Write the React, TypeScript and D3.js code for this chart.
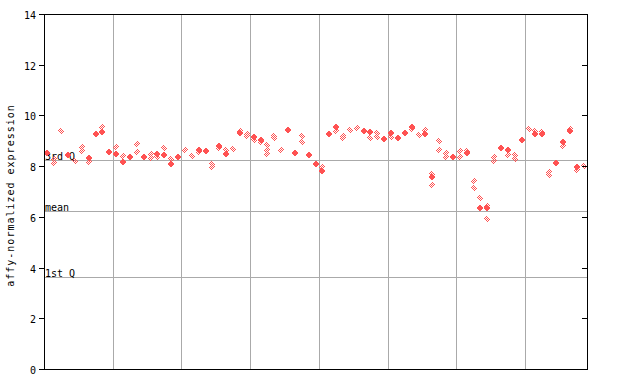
import React from "react";
import * as d3 from "d3";

// Per-sample values (79 samples, in order)
const filledValues: number[][] = [
  [8.51], [], [], [8.44], [], [], [8.33], [9.25], [9.33], [8.54],
  [8.48], [8.18], [8.37], [], [8.36], [], [8.47], [8.44], [8.08], [8.37],
  [], [], [8.64], [8.61], [], [8.79], [8.49], [], [9.29], [],
  [9.15], [9.03], [], [], [], [9.44], [8.52], [], [8.44], [8.1],
  [7.81], [9.25], [9.54], [], [], [], [9.37], [9.33], [], [9.07],
  [9.29], [9.12], [9.32], [9.56], [], [9.27], [7.58], [], [], [8.37],
  [], [8.5], [], [6.34], [6.34], [], [8.73], [8.65], [], [9.02],
  [], [9.25], [9.25], [], [8.14], [8.94], [9.4], [7.95], [],
];

const hatchedValues: number[][] = [
  [], [8.27, 8.12], [9.38], [], [8.21], [8.75, 8.6], [8.16], [], [9.54], [],
  [8.74], [8.39], [], [8.86, 8.57], [], [8.47, 8.33], [8.37], [8.7], [8.28], [],
  [8.62], [8.41], [8.57], [], [8.1, 7.98], [8.72], [8.64], [8.66], [9.38], [9.25, 9.18],
  [9.05], [8.95], [8.83, 8.65, 8.48], [9.2, 9.12], [8.62], [], [], [9.19, 8.97], [], [],
  [7.97], [], [9.38], [9.17, 9.1], [9.43], [9.49], [], [9.1], [9.29, 9.16], [],
  [9.15], [], [], [9.45], [9.23], [9.43], [7.68, 7.26], [8.99, 8.64], [8.53, 8.37], [],
  [8.61, 8.37], [8.58], [7.41, 7.12], [6.73], [6.42, 5.91], [8.37, 8.21], [], [8.45], [8.44, 8.27], [],
  [9.46], [9.38], [9.35], [7.78, 7.65], [], [8.8], [9.48], [7.85], [8.0],
];

const yTicks = [0, 2, 4, 6, 8, 10, 12, 14];
const groupBoundaries = [10, 20, 30, 40, 50, 60, 70];
const statLines = [
  { label: "3rd Q", value: 8.24 },
  { label: "mean", value: 6.23 },
  { label: "1st Q", value: 3.63 },
];
const yTitle = "affy-normalized expression";

const RED = "#ff5252";
const GRID = "#aaaaaa";

export default function App() {
  const left = 44, right = 587, top = 14, bottom = 369;
  const n = filledValues.length;
  const x = d3.scaleBand<number>().domain(d3.range(n)).range([left, right]).paddingInner(0).paddingOuter(0);
  const y = d3.scaleLinear().domain([0, 14]).range([bottom, top]);
  const bw = x.bandwidth();
  const cx = (i: number) => Math.round((x(i) as number) + bw / 2);
  const cy = (v: number) => Math.round(y(v));
  const diamond = (px: number, py: number) =>
    `${px},${py - 4} ${px + 3},${py} ${px},${py + 4} ${px - 3},${py}`;
  const font = "'DejaVu Sans Mono', monospace";

  return (
    <svg
      width={640}
      height={384}
      style={{ position: "absolute", left: 0, top: 0, background: "#fff", userSelect: "none" }}
    >
      <defs>
        <pattern id="chk" width={2} height={2} patternUnits="userSpaceOnUse">
          <rect x={0} y={0} width={1} height={1} fill={RED} />
          <rect x={1} y={1} width={1} height={1} fill={RED} />
        </pattern>
      </defs>
      <rect x={0} y={0} width={640} height={384} fill="#fff" />
      {groupBoundaries.map((b) => {
        const gx = Math.round(x(b) as number) + 0.5;
        return <line key={b} x1={gx} x2={gx} y1={top} y2={bottom} stroke={GRID} strokeWidth={1} />;
      })}
      {statLines.map((s) => {
        const ly = Math.round(y(s.value)) + 0.5;
        return (
          <g key={s.label}>
            <line x1={left} x2={right} y1={ly} y2={ly} stroke={GRID} strokeWidth={1} />
            <text x={left + 1} y={ly - 1} fontFamily={font} fontSize={10} fill="#000">
              {s.label}
            </text>
          </g>
        );
      })}
      <g shapeRendering="crispEdges">
        {hatchedValues.map((vals, i) =>
          vals.map((v, j) => (
            <polygon key={`h${i}-${j}`} points={diamond(cx(i), cy(v))} fill="url(#chk)" />
          ))
        )}
        {filledValues.map((vals, i) =>
          vals.map((v, j) => (
            <polygon key={`f${i}-${j}`} points={diamond(cx(i), cy(v))} fill={RED} />
          ))
        )}
      </g>
      <rect x={left + 0.5} y={top + 0.5} width={right - left} height={bottom - top} fill="none" stroke="#000" strokeWidth={1} />
      {yTicks.map((t) => {
        const ty = Math.round(y(t)) + 0.5;
        return (
          <g key={t}>
            <line x1={left - 5} x2={left} y1={ty} y2={ty} stroke="#000" />
            <line x1={right - 5} x2={right} y1={ty} y2={ty} stroke="#000" />
            <text x={36} y={ty + 4} textAnchor="end" fontFamily={font} fontSize={10} fill="#000">
              {t}
            </text>
          </g>
        );
      })}
      <text
        transform={`translate(14, ${(top + bottom) / 2 + 4}) rotate(-90)`}
        textAnchor="middle"
        fontFamily={font}
        fontSize={10}
        letterSpacing={1}
        fill="#000"
      >
        {yTitle}
      </text>
    </svg>
  );
}
